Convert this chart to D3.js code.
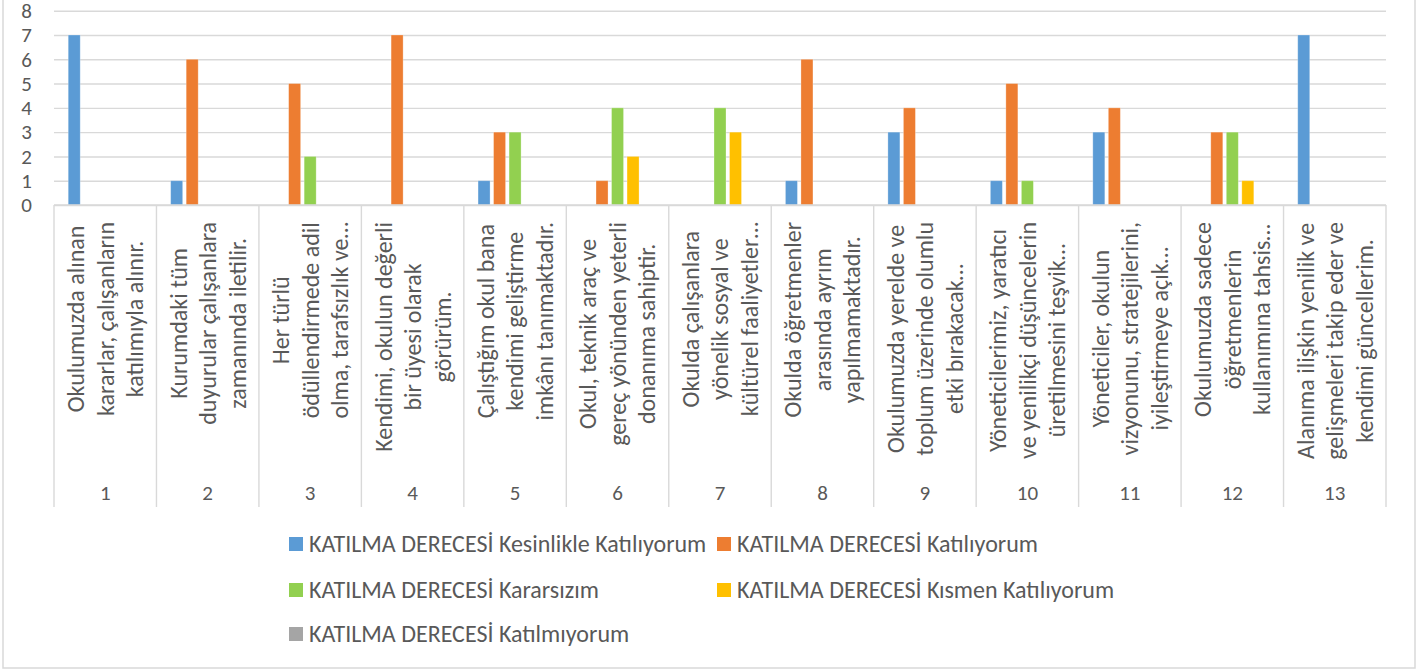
<!DOCTYPE html>
<html lang="tr">
<head>
<meta charset="UTF-8">
<title>Katılma Derecesi</title>
<script src="https://cdn.jsdelivr.net/npm/d3@7"></script>
<style>
  body { margin: 0; background: #fff; }
  svg { display: block; font-family: Carlito, Calibri, Lato, sans-serif; }
  text { fill: #595959; }
</style>
</head>
<body>
<svg id="chart" width="1427" height="669"></svg>
<script>
// categories and their (already wrapped) labels
const categories = ["1", "2", "3", "4", "5", "6", "7", "8", "9", "10", "11", "12", "13"];
const labelLines = [
  ["Okulumuzda alınan", "kararlar, çalışanların", "katılımıyla alınır."],
  ["Kurumdaki tüm", "duyurular çalışanlara", "zamanında iletilir."],
  ["Her türlü", "ödüllendirmede adil", "olma, tarafsızlık ve…"],
  ["Kendimi, okulun değerli", "bir üyesi olarak", "görürüm."],
  ["Çalıştığım okul bana", "kendimi geliştirme", "imkânı tanımaktadır."],
  ["Okul, teknik araç ve", "gereç yönünden yeterli", "donanıma sahiptir."],
  ["Okulda çalışanlara", "yönelik sosyal ve", "kültürel faaliyetler…"],
  ["Okulda öğretmenler", "arasında ayrım", "yapılmamaktadır."],
  ["Okulumuzda yerelde ve", "toplum üzerinde olumlu", "etki bırakacak…"],
  ["Yöneticilerimiz, yaratıcı", "ve yenilikçi düşüncelerin", "üretilmesini teşvik…"],
  ["Yöneticiler, okulun", "vizyonunu, stratejilerini,", "iyileştirmeye açık…"],
  ["Okulumuzda sadece", "öğretmenlerin", "kullanımına tahsis…"],
  ["Alanıma ilişkin yenilik ve", "gelişmeleri takip eder ve", "kendimi güncellerim."]
];

const seriesNames = [
  "KATILMA DERECESİ Kesinlikle Katılıyorum",
  "KATILMA DERECESİ Katılıyorum",
  "KATILMA DERECESİ Kararsızım",
  "KATILMA DERECESİ Kısmen Katılıyorum",
  "KATILMA DERECESİ Katılmıyorum"
];
const colors = ["#5B9BD5", "#ED7D31", "#92D050", "#FFC000", "#A5A5A5"];

const kesinlikle   = [7, 1, 0, 0, 1, 0, 0, 1, 3, 1, 3, 0, 7];
const katiliyorum  = [0, 6, 5, 7, 3, 1, 0, 6, 4, 5, 4, 3, 0];
const kararsizim   = [0, 0, 2, 0, 3, 4, 4, 0, 0, 1, 0, 3, 0];
const kismen       = [0, 0, 0, 0, 0, 2, 3, 0, 0, 0, 0, 1, 0];
const katilmiyorum = [0, 0, 0, 0, 0, 0, 0, 0, 0, 0, 0, 0, 0];
const seriesValues = [kesinlikle, katiliyorum, kararsizim, kismen, katilmiyorum];

const yTicks = [0, 1, 2, 3, 4, 5, 6, 7, 8];

const svg = d3.select("#chart");
const plotLeft = 54, plotRight = 1386, plotTop = 10.7, plotBase = 205;
const gridColor = "#D9D9D9";
const textSize = 24, numSize = 21;

// chart border
svg.append("rect")
  .attr("x", 3).attr("y", -2)
  .attr("width", 1412).attr("height", 670)
  .attr("fill", "none")
  .attr("stroke", gridColor)
  .attr("stroke-width", 1.5);

const x0 = d3.scaleBand().domain(categories).range([plotLeft, plotRight]).padding(0);
const x1 = d3.scaleBand().domain(d3.range(seriesNames.length))
  .range([0, x0.bandwidth()])
  .paddingInner(0.226)
  .paddingOuter(0.916);
const y = d3.scaleLinear().domain([0, 8]).range([plotBase, plotTop]);

// y axis with gridlines
const yAxis = svg.append("g")
  .attr("transform", `translate(${plotLeft},0)`)
  .call(d3.axisLeft(y).tickValues(yTicks).tickSize(-(plotRight - plotLeft)).tickPadding(22));
yAxis.select(".domain").remove();
yAxis.selectAll(".tick line").attr("stroke", gridColor).attr("stroke-width", 1.4);
yAxis.selectAll(".tick text")
  .attr("font-size", numSize)
  .attr("font-family", "Carlito, Calibri, Lato, sans-serif")
  .attr("fill", "#595959");

// bars
const groups = svg.append("g").selectAll("g")
  .data(categories)
  .join("g")
  .attr("transform", d => `translate(${x0(d)},0)`);

groups.selectAll("rect")
  .data((d, i) => seriesValues.map((vals, s) => ({ s: s, v: vals[i] })))
  .join("rect")
  .attr("x", d => x1(d.s))
  .attr("width", x1.bandwidth())
  .attr("y", d => y(d.v))
  .attr("height", d => y(0) - y(d.v))
  .attr("fill", d => colors[d.s])
  .attr("stroke", "#fff")
  .attr("stroke-opacity", 0.35)
  .attr("stroke-width", 0.8);

// category axis (two levels)
const catAxis = svg.append("g");
catAxis.append("line")
  .attr("x1", plotLeft).attr("x2", plotRight)
  .attr("y1", plotBase).attr("y2", plotBase)
  .attr("stroke", gridColor).attr("stroke-width", 1.4);

const bounds = categories.map(c => x0(c)).concat([plotRight]);
catAxis.selectAll(".sep")
  .data(bounds)
  .join("line")
  .attr("class", "sep")
  .attr("x1", d => d).attr("x2", d => d)
  .attr("y1", plotBase).attr("y2", 507)
  .attr("stroke", gridColor).attr("stroke-width", 1.4);

catAxis.selectAll(".num")
  .data(categories)
  .join("text")
  .attr("class", "num")
  .attr("x", d => x0(d) + x0.bandwidth() / 2)
  .attr("y", 500)
  .attr("text-anchor", "middle")
  .attr("font-size", numSize)
  .text(d => d);

// rotated long labels
const lineGap = 29.5;
categories.forEach((c, i) => {
  const lines = labelLines[i];
  const cx = x0(c) + x0.bandwidth() / 2;
  const g = catAxis.append("g");
  const texts = g.selectAll("text")
    .data(lines)
    .join("text")
    .attr("text-anchor", "middle")
    .attr("font-size", textSize)
    .text(d => d);
  let maxLen = 0;
  texts.each(function () { maxLen = Math.max(maxLen, this.getComputedTextLength()); });
  const cy = 222 + maxLen / 2;
  texts.attr("transform", (d, k) =>
      `translate(${cx + (k - (lines.length - 1) / 2) * lineGap},${cy}) rotate(-90)`)
    .attr("dy", "0.35em");
});

// legend
const legendPos = [
  [289, 544], [717, 544],
  [289, 590], [717, 590],
  [289, 634]
];
const legend = svg.append("g").selectAll("g")
  .data(seriesNames)
  .join("g")
  .attr("transform", (d, i) => `translate(${legendPos[i][0]},${legendPos[i][1]})`);
legend.append("rect")
  .attr("x", 0).attr("y", -7)
  .attr("width", 14).attr("height", 14)
  .attr("fill", (d, i) => colors[i]);
legend.append("text")
  .attr("x", 20)
  .attr("dy", "0.35em")
  .attr("font-size", textSize)
  .text(d => d);
</script>
</body>
</html>
